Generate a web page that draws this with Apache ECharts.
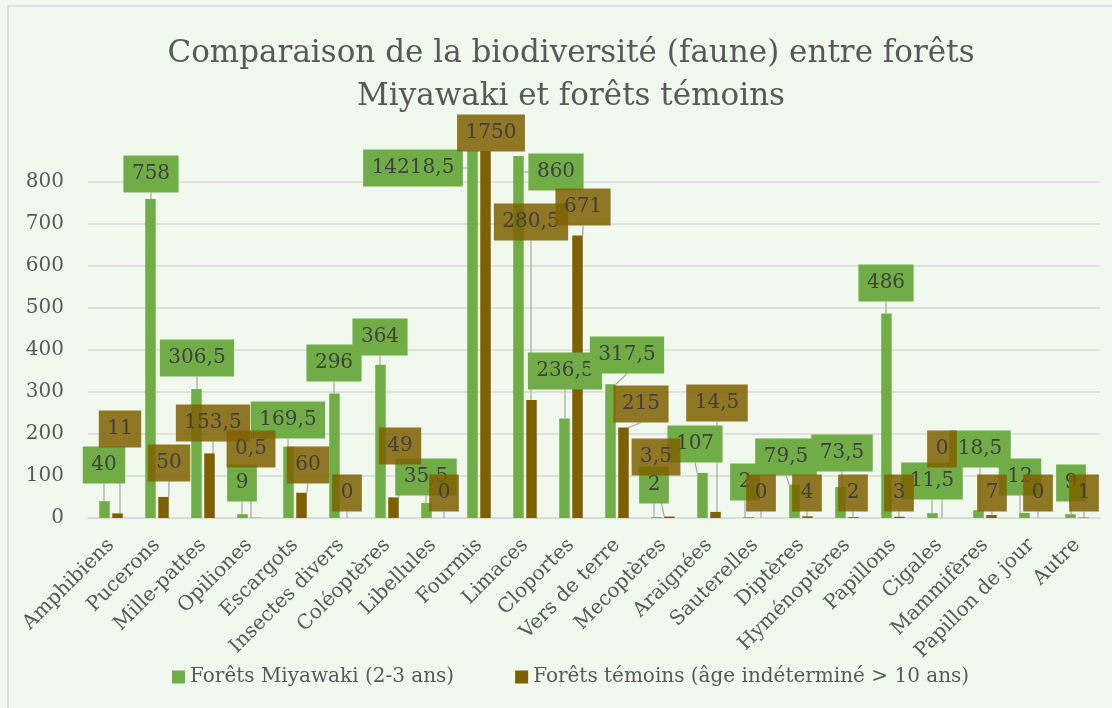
<!DOCTYPE html>
<html>
<head>
<meta charset="utf-8">
<script src="https://cdn.jsdelivr.net/npm/echarts@6/dist/echarts.min.js"></script>
<style>
html,body{margin:0;padding:0;background:#f1f8ee;}
#chart{width:1112px;height:708px;}
</style>
</head>
<body>
<div id="chart"></div>
<script>
// ---- data ----
var categories = ['Amphibiens','Pucerons','Mille-pattes','Opiliones','Escargots','Insectes divers','Coléoptères','Libellules','Fourmis','Limaces','Cloportes','Vers de terre','Mecoptères','Araignées','Sauterelles','Diptères','Hyménoptères','Papillons','Cigales','Mammifères','Papillon de jour','Autre'];
var miyawaki = [40, 758, 306.5, 9, 169.5, 296, 364, 35.5, 14218.5, 860, 236.5, 317.5, 2, 107, 2, 79.5, 73.5, 486, 11.5, 18.5, 12, 9];
var temoins = [11, 50, 153.5, 0.5, 60, 0, 49, 0, 1750, 280.5, 671, 215, 3.5, 14.5, 0, 4, 2, 3, 0, 7, 0, 1];
var seriesNames = ['Forêts Miyawaki (2-3 ans)', 'Forêts témoins (âge indéterminé > 10 ans)'];
var titleText = 'Comparaison de la biodiversité (faune) entre forêts\nMiyawaki et forêts témoins';

// ---- label callout placement (pixel centres, as in the reference) ----
var greenLabelPos = [[104,465],[151,174],[197,358],[242,483],[288,420],[334,363],[380,337],[426,477],[413,168],[556,172],[565,371],[627,355],[654,485],[695,444],[745,482],[786,457],[842,453],[886,283],[932,481],[980,449],[1020,477],[1071,483]];
var brownLabelPos = [[120,429],[169,463],[213,423],[251,449],[308,465],[347,493],[400,446],[444,493],[491,133],[531,222],[583,207],[641,404],[656,457],[717,403],[761,493],[807,493],[853,493],[899,493],[942,449],[992,493],[1038,493],[1084,493]];

var FONT = 'DejaVu Serif';
var TXT = '#595959';
function fmt(v){ return String(v).replace('.', ','); }

var chart = echarts.init(document.getElementById('chart'));
function layoutFor(pos){
  return function(p){
    var c = pos[p.dataIndex];
    return {x: c[0], y: c[1], align: 'center', verticalAlign: 'middle'};
  };
}
function barLabel(bg){
  return {
    show: true, position: 'top',
    formatter: function(p){ return fmt(p.value); },
    fontFamily: FONT, fontSize: 20, lineHeight: 20, color: '#404040',
    backgroundColor: bg, padding: [8.5, 8.5, 8.5, 8.5]
  };
}
chart.setOption({
  backgroundColor: '#f1f8ee',
  animation: false,
  title: {
    text: titleText, left: 566, top: 27, textAlign: 'center',
    textStyle: {fontFamily: FONT, fontSize: 31, fontWeight: 'normal', color: TXT, lineHeight: 43, align: 'center'}
  },
  graphic: [{
    type: 'rect', silent: true, z: -1,
    shape: {x: 8, y: 6, width: 1130, height: 730},
    style: {fill: null, stroke: '#d9d9d9', lineWidth: 1.5}
  }],
  legend: {
    left: 167, top: 662, itemGap: 61, itemWidth: 13, itemHeight: 13, icon: 'rect',
    textStyle: {fontFamily: FONT, fontSize: 20, color: TXT},
    data: seriesNames
  },
  grid: {left: 88, right: 12, top: 151, bottom: 190},
  xAxis: {
    type: 'category', data: categories,
    axisTick: {show: false},
    axisLine: {lineStyle: {color: '#d9d9d9', width: 1.5}},
    axisLabel: {interval: 0, rotate: 45, margin: 24, fontFamily: FONT, fontSize: 20, color: TXT}
  },
  yAxis: {
    type: 'value', min: 0, max: 872, interval: 100,
    axisLine: {show: false}, axisTick: {show: false},
    axisLabel: {margin: 24, fontFamily: FONT, fontSize: 20, color: TXT, showMaxLabel: false},
    splitLine: {show: true, showMaxLine: false, lineStyle: {color: '#d9d9d9', width: 1.5}}
  },
  series: [{
    name: seriesNames[0], type: 'bar', data: miyawaki,
    barWidth: 10.5, barGap: '24%',
    itemStyle: {color: '#70ad47'},
    label: barLabel('#70ad47'),
    labelLine: {show: true, lineStyle: {color: '#a6a6a6', width: 1.2}},
    labelLayout: layoutFor(greenLabelPos)
  }, {
    name: seriesNames[1], type: 'bar', data: temoins,
    barWidth: 10.5,
    itemStyle: {color: '#7f6000'},
    label: barLabel('rgba(127,96,0,0.85)'),
    labelLine: {show: true, lineStyle: {color: '#a6a6a6', width: 1.2}},
    labelLayout: layoutFor(brownLabelPos)
  }]
});
</script>
</body>
</html>
